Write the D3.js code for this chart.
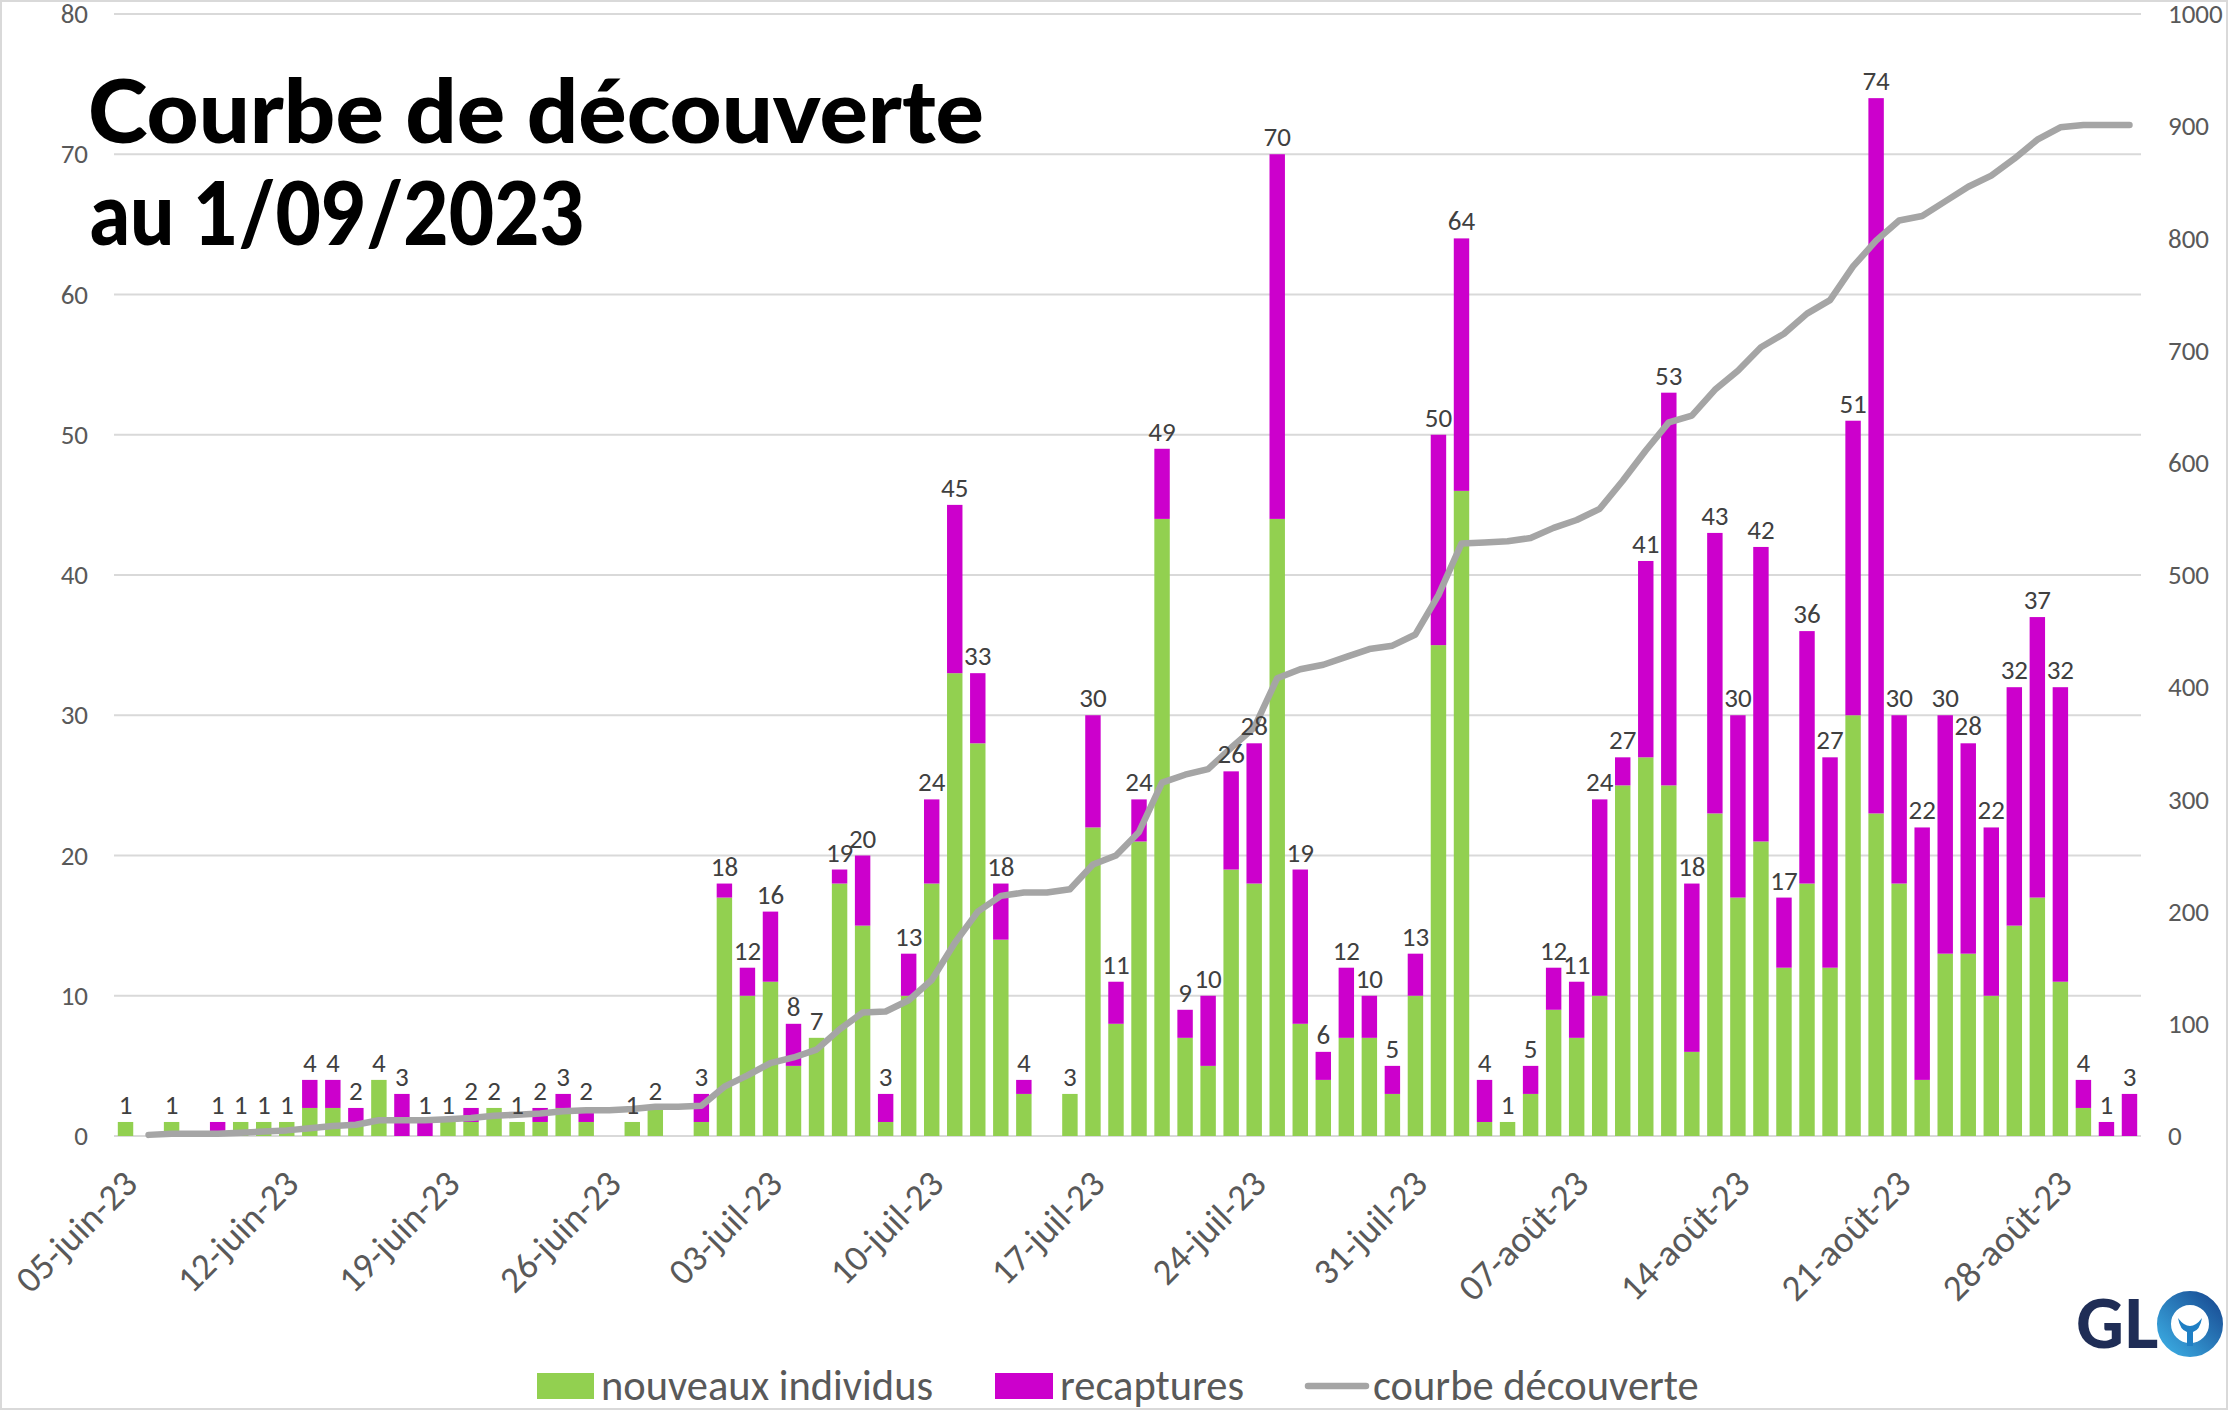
<!DOCTYPE html>
<html>
<head>
<meta charset="utf-8">
<style>
body { margin: 0; background: #fff; }
text { font-family: "Carlito", "Liberation Sans Narrow", "Noto Sans", sans-serif; }
.tick text { fill: #595959; }
.lbl { fill: #404040; font-size: 27px; }
.title { font-family: Lato, "Noto Sans", sans-serif; font-weight: 900; fill: #000; }
</style>
<title></title></head>
<body>
<script src="https://cdn.jsdelivr.net/npm/d3@7"></script>
<script>

// daily counts, 05-juin-23 .. 31-août-23
var nouveaux = [1,0,1,0,0,1,1,1,2,2, 1,4,0,0,1,1,2,1,1,2, 1,0,1,2,0,1,17,10,11,5,
  7,18,15,1,10,18,33,28,14,3, 0,3,22,8,21,44,7,5,19,18, 44,8,4,7,7,3,10,35,46,1,
  1,3,9,7,10,25,27,25,6,23, 17,21,12,18,12,30,23,18,4,13, 13,10,15,17,11,2,0,0];
var recaptures = [0,0,0,0,1,0,0,0,2,2, 1,0,3,1,0,1,0,0,1,1, 1,0,0,0,0,2,1,2,5,3,
  0,1,5,2,3,6,12,5,4,1, 0,0,8,3,3,5,2,5,7,10, 26,11,2,5,3,2,3,15,18,3,
  0,2,3,4,14,2,14,28,12,20, 13,21,5,18,15,21,51,12,18,17, 15,12,17,20,21,2,1,3];
var courbe = [null,1,2,2,2,3,4,5,7,9, 10,14,14,14,15,16,18,19,20,22, 23,23,24,26,26,27,44,54,65,70,
  77,95,110,111,121,139,172,200,214,217, 217,220,242,250,271,315,322,327,346,364,
  408,416,420,427,434,437,447,482,528,529, 530,533,542,549,559,584,611,636,642,665,
  682,703,715,733,745,775,798,816,820,833, 846,856,871,888,899,901,901,901];
var tickLabels = ["05-juin-23","12-juin-23","19-juin-23","26-juin-23","03-juil-23","10-juil-23",
  "17-juil-23","24-juil-23","31-juil-23","07-août-23","14-août-23","21-août-23","28-août-23"];
var leftTicks = [0,10,20,30,40,50,60,70,80];
var rightTicks = [0,100,200,300,400,500,600,700,800,900,1000];

var width = 2229, height = 1411;
var plotL = 114, plotR = 2141, plotT = 14, plotB = 1136;
var green = "#92d050", magenta = "#cc00cc", grey = "#a5a5a5";

var svg = d3.select("body").append("svg")
    .attr("width", width)
    .attr("height", height);

svg.append("rect")
    .attr("x", 1).attr("y", 1)
    .attr("width", width - 3).attr("height", height - 3)
    .attr("fill", "#fff").attr("stroke", "#d9d9d9").attr("stroke-width", 2);

var x = d3.scaleBand()
    .domain(d3.range(nouveaux.length))
    .range([plotL, plotR])
    .paddingInner(0.33)
    .paddingOuter(0.165);
var yL = d3.scaleLinear().domain([0, 80]).range([plotB, plotT]);
var yR = d3.scaleLinear().domain([0, 1000]).range([plotB, plotT]);

// gridlines
svg.append("g")
  .selectAll("line")
  .data(leftTicks)
  .enter().append("line")
    .attr("x1", plotL).attr("x2", plotR)
    .attr("y1", function(d){ return yL(d); })
    .attr("y2", function(d){ return yL(d); })
    .attr("stroke", "#d9d9d9")
    .attr("stroke-width", 2);

// axes
var gl = svg.append("g")
    .attr("transform", "translate(" + plotL + ",0)")
    .call(d3.axisLeft(yL).tickValues(leftTicks).tickSize(0).tickPadding(26));
var gr = svg.append("g")
    .attr("transform", "translate(" + plotR + ",0)")
    .call(d3.axisRight(yR).tickValues(rightTicks).tickFormat(d3.format("d")).tickSize(0).tickPadding(27));
[gl, gr].forEach(function(g){
  g.select(".domain").remove();
  g.selectAll("text").style("font-size", "27px").style("font-family", "Carlito, 'Noto Sans', sans-serif");
});

var gx = svg.append("g")
    .attr("transform", "translate(0," + plotB + ")")
    .call(d3.axisBottom(x)
        .tickValues(d3.range(0, nouveaux.length, 7))
        .tickFormat(function(i){ return tickLabels[i / 7]; })
        .tickSize(0));
gx.select(".domain").remove();
gx.selectAll("text")
    .attr("y", 0).attr("dy", 0)
    .attr("text-anchor", "end")
    .attr("transform", "translate(14,50) rotate(-45)")
    .style("font-size", "37px")
    .style("font-family", "Carlito, 'Noto Sans', sans-serif");

// stacked bars
var rows = nouveaux.map(function(v, i){ return {i: i, nouveaux: v, recaptures: recaptures[i]}; });
var stack = d3.stack().keys(["nouveaux", "recaptures"])(rows);
var colors = {nouveaux: green, recaptures: magenta};

svg.append("g")
  .selectAll("g")
  .data(stack)
  .enter().append("g")
    .attr("fill", function(d){ return colors[d.key]; })
  .selectAll("rect")
  .data(function(d){ return d; })
  .enter().append("rect")
    .attr("x", function(d){ return x(d.data.i); })
    .attr("y", function(d){ return yL(d[1]); })
    .attr("width", x.bandwidth())
    .attr("height", function(d){ return yL(d[0]) - yL(d[1]); });

// cumulative line
var line = d3.line()
    .defined(function(d){ return d != null; })
    .x(function(d, i){ return x(i) + x.bandwidth() / 2; })
    .y(function(d){ return yR(d); });

svg.append("path")
    .datum(courbe)
    .attr("d", line)
    .attr("fill", "none")
    .attr("stroke", grey)
    .attr("stroke-width", 6.5)
    .attr("stroke-linejoin", "round")
    .attr("stroke-linecap", "round");

// totals above bars
svg.append("g")
  .selectAll("text")
  .data(rows.filter(function(d){ return d.nouveaux + d.recaptures > 0; }))
  .enter().append("text")
    .attr("class", "lbl")
    .attr("x", function(d){ return x(d.i) + x.bandwidth() / 2; })
    .attr("y", function(d){ return yL(d.nouveaux + d.recaptures) - 8; })
    .attr("text-anchor", "middle")
    .text(function(d){ return d.nouveaux + d.recaptures; });

// title
svg.append("text").attr("class", "title")
    .attr("x", 88).attr("y", 143)
    .attr("textLength", 896).attr("lengthAdjust", "spacingAndGlyphs")
    .style("font-size", "88px")
    .text("Courbe de découverte");
svg.append("text").attr("class", "title")
    .attr("x", 90).attr("y", 245)
    .attr("textLength", 495).attr("lengthAdjust", "spacingAndGlyphs")
    .style("font-size", "88px")
    .text("au 1/09/2023");

// legend
var legend = svg.append("g").style("font-size", "42.5px");
legend.append("rect").attr("x", 537).attr("y", 1373).attr("width", 57).attr("height", 26).attr("fill", green);
legend.append("text").attr("x", 601).attr("y", 1400).attr("fill", "#595959").text("nouveaux individus");
legend.append("rect").attr("x", 995).attr("y", 1373).attr("width", 58).attr("height", 26).attr("fill", magenta);
legend.append("text").attr("x", 1060).attr("y", 1400).attr("fill", "#595959").text("recaptures");
legend.append("line").attr("x1", 1308).attr("x2", 1366).attr("y1", 1386).attr("y2", 1386)
    .attr("stroke", grey).attr("stroke-width", 6.5).attr("stroke-linecap", "round");
legend.append("text").attr("x", 1373).attr("y", 1400).attr("fill", "#595959").text("courbe découverte");

// logo
var logo = svg.append("g");
logo.append("text")
    .attr("x", 2076).attr("y", 1348)
    .style("font-family", "Lato, 'Noto Sans', sans-serif")
    .style("font-weight", 900)
    .style("font-size", "66px")
    .attr("fill", "#1f2d56")
    .text("GL");
var grad = svg.append("defs").append("linearGradient").attr("id", "ring")
    .attr("x1", "0").attr("y1", "1").attr("x2", "1").attr("y2", "0");
grad.append("stop").attr("offset", "0").attr("stop-color", "#3aa9e0");
grad.append("stop").attr("offset", "1").attr("stop-color", "#1a4f96");
logo.append("circle").attr("cx", 2190).attr("cy", 1324).attr("r", 26)
    .attr("fill", "none").attr("stroke", "url(#ring)").attr("stroke-width", 14);
logo.append("path")
    .attr("d", "M2178,1318 Q2184,1326 2190,1326 Q2196,1326 2202,1318 Q2200,1330 2193,1332 L2193,1346 L2187,1346 L2187,1332 Q2180,1330 2178,1318 Z")
    .attr("fill", "#1f7fc4");

</script>
</body>
</html>
